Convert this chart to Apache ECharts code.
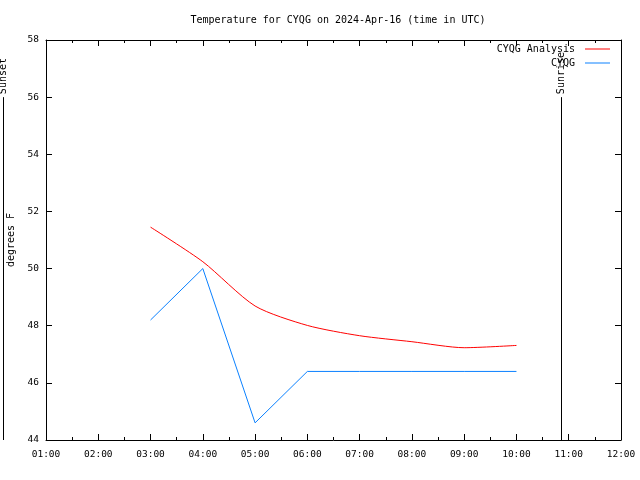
<!DOCTYPE html>
<html><head><meta charset="utf-8">
<script src="https://cdn.jsdelivr.net/npm/echarts@6/dist/echarts.min.js"></script>
<style>html,body{margin:0;padding:0;background:#fff}#c{width:640px;height:480px}</style>
</head><body><div id="c"></div>
<script>
const hours = [3, 4, 5, 6, 7, 8, 9, 10];
const analysis = [51.45, 50.24, 48.69, 48.01, 47.65, 47.44, 47.23, 47.31];
const observed = [48.2, 50.0, 44.6, 46.4, 46.4, 46.4, 46.4, 46.4];
const events = [{name: 'Sunset', hour: 0.17}, {name: 'Sunrise', hour: 10.86}];
const eventTop = 56;
const xTicks = ['01:00','02:00','03:00','04:00','05:00','06:00','07:00','08:00','09:00','10:00','11:00','12:00'];

const FONT = 'DejaVu Sans Mono';
const chart = echarts.init(document.getElementById('c'));
const axisBase = {
  axisLine: {show: true, onZero: false, lineStyle: {color: '#000', width: 1}},
  axisTick: {show: true, inside: true, length: 6, lineStyle: {color: '#000'}},
  splitLine: {show: false}
};
const legendText = {fontFamily: FONT, fontSize: 10, color: '#000', padding: [0, 5, 0, 0]};
chart.setOption({
  animation: false,
  title: {text: 'Temperature for CYQG on 2024-Apr-16 (time in UTC)', left: 333, top: 10, textAlign: 'center',
    textStyle: {fontFamily: FONT, fontSize: 10, fontWeight: 'normal', color: '#000'}},
  grid: {left: 46, right: 19, top: 40, bottom: 40, outerBoundsMode: 'none', containLabel: false},
  legend: [
    {data: ['CYQG Analysis'], right: 30, top: 44, padding: 0, align: 'right', icon: 'rect', itemWidth: 25, itemHeight: 1,
      textStyle: legendText},
    {data: ['CYQG'], right: 30, top: 58, padding: 0, align: 'right', icon: 'rect', itemWidth: 25, itemHeight: 1,
      textStyle: legendText}
  ],
  xAxis: [
    Object.assign({}, axisBase, {type: 'value', min: 1, max: 12, interval: 1, position: 'bottom',
      minorTick: {show: true, splitNumber: 2, length: 3, lineStyle: {color: '#000'}},
      axisLabel: {fontFamily: FONT, fontSize: 9.5, color: '#000', margin: 10,
        formatter: v => xTicks[Math.round(v) - 1] || ''}}),
    Object.assign({}, axisBase, {type: 'value', min: 1, max: 12, interval: 1, position: 'top',
      minorTick: {show: true, splitNumber: 2, length: 3, lineStyle: {color: '#000'}},
      axisLabel: {show: false}})
  ],
  yAxis: [
    Object.assign({}, axisBase, {type: 'value', min: 44, max: 58, interval: 2, position: 'left',
      name: 'degrees F', nameLocation: 'middle', nameRotate: 90, nameGap: 30,
      nameTextStyle: {fontFamily: FONT, fontSize: 10, color: '#000'},
      axisLabel: {fontFamily: FONT, fontSize: 9.5, color: '#000', margin: 7}}),
    Object.assign({}, axisBase, {type: 'value', min: 44, max: 58, interval: 2, position: 'right',
      axisLabel: {show: false}})
  ],
  series: [
    {name: 'CYQG Analysis', type: 'line', symbol: 'none', smooth: 0.25, color: '#ff0000',
      lineStyle: {width: 1, color: '#ff0000'}, data: hours.map((h, i) => [h, analysis[i]])},
    {name: 'CYQG', type: 'line', symbol: 'none', color: '#0a80ff',
      lineStyle: {width: 1, color: '#0a80ff'}, data: hours.map((h, i) => [h, observed[i]])}
  ]
});
const g = [];
events.forEach(e => {
  const top = chart.convertToPixel({xAxisIndex: 0, yAxisIndex: 0}, [e.hour, eventTop]);
  const bot = chart.convertToPixel({xAxisIndex: 0, yAxisIndex: 0}, [e.hour, 44]);
  const x = Math.round(top[0]) + 0.5;
  g.push({type: 'line', shape: {x1: x, y1: top[1], x2: x, y2: bot[1]}, style: {stroke: '#000', lineWidth: 1}, silent: true});
  g.push({type: 'text', x: x, y: top[1] - 3, rotation: Math.PI / 2,
    style: {text: e.name, fontFamily: FONT, fontSize: 10, fill: '#000', align: 'left', verticalAlign: 'middle'}});
});
chart.setOption({graphic: g});
</script></body></html>
